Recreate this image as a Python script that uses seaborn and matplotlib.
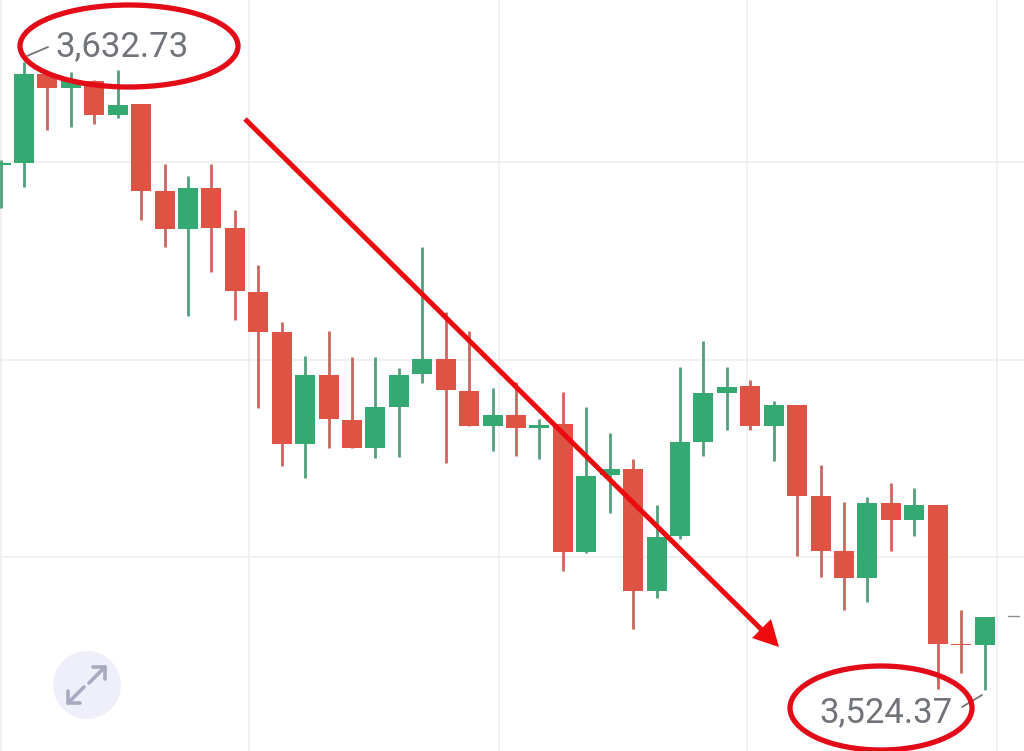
import numpy as np
import pandas as pd
import seaborn as sns
import matplotlib.pyplot as plt
from matplotlib.patches import Ellipse, Circle, Polygon
from matplotlib.transforms import Affine2D

# candles, oldest first (first one is cut off by the left edge)
opens = [3614.98, 3615.33, 3630.69, 3628.27, 3629.48, 3623.61, 3625.51, 3610.50, 3603.94, 3611.01, 3604.11,
         3593.06, 3586.16, 3566.83, 3578.74, 3570.97, 3566.14, 3573.22, 3578.91, 3581.50, 3575.98, 3569.94,
         3571.84, 3569.59, 3570.28, 3548.19, 3561.48, 3562.52, 3541.46, 3550.95, 3567.18, 3575.63, 3576.84,
         3569.94, 3573.56, 3557.86, 3548.36, 3543.70, 3556.65, 3553.71, 3556.30, 3532.31, 3532.14]
closes = [3615.33, 3630.69, 3628.27, 3629.65, 3623.61, 3625.34, 3610.50, 3603.94, 3611.01, 3604.11, 3593.24,
          3586.16, 3566.83, 3578.74, 3571.15, 3566.14, 3573.22, 3578.74, 3581.50, 3576.15, 3569.94, 3571.84,
          3569.59, 3570.11, 3548.19, 3561.31, 3562.52, 3541.46, 3550.78, 3567.18, 3575.63, 3576.67, 3569.94,
          3573.56, 3557.86, 3548.36, 3543.70, 3556.65, 3553.71, 3556.30, 3532.31, 3532.05, 3536.97]
highs = [3615.85, 3632.73, 3630.69, 3631.03, 3629.65, 3631.38, 3625.51, 3615.16, 3613.08, 3615.16, 3607.22,
         3597.72, 3587.89, 3582.02, 3586.33, 3581.85, 3581.85, 3579.95, 3600.83, 3589.61, 3586.33, 3576.50,
         3577.53, 3571.15, 3575.80, 3573.22, 3568.73, 3564.24, 3556.30, 3580.12, 3584.61, 3580.12, 3577.88,
         3574.25, 3573.56, 3563.21, 3556.82, 3557.68, 3560.10, 3559.24, 3556.30, 3538.18, 3536.97]
lows = [3607.56, 3611.19, 3621.02, 3621.54, 3622.06, 3623.09, 3605.49, 3600.83, 3588.92, 3596.52, 3588.23,
        3573.04, 3563.03, 3560.96, 3566.14, 3566.14, 3564.41, 3564.59, 3577.36, 3563.55, 3569.94, 3565.62,
        3564.76, 3564.24, 3544.91, 3548.02, 3554.92, 3534.90, 3540.25, 3550.43, 3564.76, 3569.25, 3569.25,
        3563.90, 3547.50, 3543.88, 3538.18, 3539.56, 3548.36, 3550.95, 3524.60, 3527.31, 3524.37]

grid_prices = [3615.45, 3581.3, 3547.3]
grid_times = [0.0, 10.6, 21.27, 31.86, 42.53]
high_label = "3,632.73"
low_label = "3,524.37"

GREEN = "#35a972"
RED = "#df5344"
GREEN_WICK = "#52a07c"
RED_WICK = "#c9665e"

sns.set_style("white")
plt.rcParams["font.family"] = ["Roboto", "DejaVu Sans"]

fig = plt.figure(figsize=(10.24, 7.51), dpi=100)
ax = fig.add_axes([0, 0, 1, 1])
ax.set_xlim(-0.026, 43.68)
ax.set_ylim(3513.84, 3643.46)

df = pd.DataFrame({"t": range(len(opens)), "open": opens, "close": closes, "high": highs, "low": lows})
df["dir"] = np.where(df["close"] >= df["open"], "up", "down")

for p in grid_prices:
    ax.axhline(p, color="#eeeef1", lw=1.1, zorder=0)
for t in grid_times:
    ax.axvline(t, color="#eeeef1", lw=1.1, zorder=0)

# wicks and bodies are both drawn as vertical segments per candle
wicks = df.melt(id_vars=["t", "dir"], value_vars=["high", "low"], value_name="price")
sns.lineplot(data=wicks, x="t", y="price", units="t", estimator=None, hue="dir", sort=False,
             palette={"up": GREEN_WICK, "down": RED_WICK}, lw=2.0, solid_capstyle="butt",
             legend=False, ax=ax, zorder=2)
bodies = df.melt(id_vars=["t", "dir"], value_vars=["open", "close"], value_name="price")
sns.lineplot(data=bodies, x="t", y="price", units="t", estimator=None, hue="dir", sort=False,
             palette={"up": GREEN, "down": RED}, lw=14.4, solid_capstyle="butt",
             legend=False, ax=ax, zorder=3)

ax.set_xlabel("")
ax.set_ylabel("")
ax.set_xticks([])
ax.set_yticks([])
sns.despine(ax=ax, left=True, bottom=True)

# everything below is overlay on the screenshot, placed in image pixels
img = Affine2D().scale(1 / 1024, -1 / 751).translate(0, 1) + fig.transFigure

ax.text(122, 47, high_label, transform=img, fontsize=25, color="#707478", ha="center", va="center", zorder=6)
ax.text(886, 713, low_label, transform=img, fontsize=25, color="#707478", ha="center", va="center", zorder=6)
ax.plot([27, 48], [56, 47], transform=img, color="#70747a", lw=1.3, zorder=6)
ax.plot([962, 982], [707, 695], transform=img, color="#70747a", lw=1.3, zorder=6)
ax.plot([1008, 1019], [616, 616], transform=img, color="#8a8d92", lw=1, zorder=6)

ax.add_patch(Ellipse((129, 46), 218, 82, transform=img, fill=False, ec="#e30b17", lw=3.8, zorder=7))
ax.add_patch(Ellipse((881, 708), 182, 84, transform=img, fill=False, ec="#e30b17", lw=3.8, zorder=7))

ax.plot([245, 768], [119, 636], transform=img, color="#ea0a10", lw=3.6, zorder=7, solid_capstyle="butt")
ax.add_patch(Polygon([(779, 647), (752, 638), (771, 619)], closed=True, transform=img, fc="#f00a0e", ec="none", zorder=7))

# expand button
ax.add_patch(Circle((87, 685), 34, transform=img, fc="#eeeffb", ec="none", zorder=6))
btn = "#a8abbf"
ax.plot([89, 105], [683, 667], transform=img, color=btn, lw=2.6, zorder=7)
ax.plot([93, 105, 105], [667, 667, 679], transform=img, color=btn, lw=2.6, zorder=7)
ax.plot([84, 68], [687, 703], transform=img, color=btn, lw=2.6, zorder=7)
ax.plot([68, 68, 80], [691, 703, 703], transform=img, color=btn, lw=2.6, zorder=7)

plt.savefig("out.png", dpi=100)
